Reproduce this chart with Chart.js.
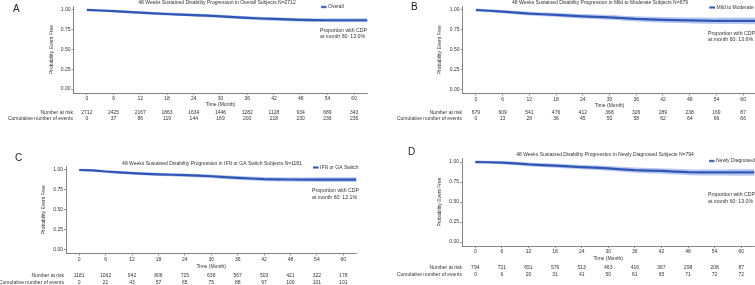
<!DOCTYPE html>
<html><head><meta charset="utf-8">
<script src="https://cdn.jsdelivr.net/npm/chart.js@4"></script>
<style>
html,body{margin:0;padding:0;background:#fff;overflow:hidden;width:755px;height:285px;position:relative}
canvas{position:absolute}
</style></head><body>
<canvas id="cA"></canvas><canvas id="cB"></canvas><canvas id="cC"></canvas><canvas id="cD"></canvas>
<script>
// ---- data ----
const months = [0,3,6,9,12,15,18,21,24,27,30,33,36,39,42,45,48,51,54,57,60,63];
const xTicks = [0,6,12,18,24,30,36,42,48,54,60];
const yTicks = [0,0.25,0.5,0.75,1];

const survOverall = [1.000,0.993,0.986,0.975,0.965,0.957,0.949,0.942,0.935,0.928,0.920,0.909,0.899,0.892,0.886,0.880,0.875,0.872,0.870,0.870,0.870,0.870];
const survMild    = [1.000,0.990,0.980,0.967,0.954,0.946,0.939,0.929,0.920,0.914,0.908,0.897,0.887,0.881,0.876,0.872,0.869,0.866,0.864,0.864,0.864,0.864];
const survSwitch  = [1.000,0.996,0.981,0.970,0.960,0.952,0.945,0.940,0.935,0.928,0.921,0.911,0.901,0.893,0.886,0.883,0.880,0.879,0.879,0.879,0.879,0.879];
const survNew     = [1.000,0.997,0.992,0.982,0.970,0.962,0.954,0.946,0.937,0.929,0.920,0.909,0.898,0.892,0.888,0.880,0.873,0.870,0.870,0.870,0.870,0.870];

const riskOverall = [2712,2425,2167,1863,1634,1446,1282,1128,934,689,343];
const evOverall   = [0,37,86,119,144,169,200,218,230,236,236];
const riskMild    = [679,609,541,476,412,368,326,289,238,169,87];
const evMild      = [0,13,28,36,45,50,58,62,64,66,66];
const riskSwitch  = [1181,1062,942,806,715,638,567,503,421,322,178];
const evSwitch    = [0,21,43,57,65,75,88,97,100,101,101];
const riskNew     = [794,721,651,576,513,463,416,367,298,208,87];
const evNew       = [0,6,20,31,41,50,61,65,71,72,72];

const panelLetters = ['A','B','C','D'];
const panelTitles = [
  '48 Weeks Sustained Disability Progression in Overall Subjects N=2712',
  '48 Weeks Sustained Disability Progression in Mild to Moderate Subjects N=679',
  '48 Weeks Sustained Disability Progression in IFN or GA Switch Subjects N=1181',
  '48 Weeks Sustained Disability Progression in Newly Diagnosed Subjects N=794'
];
const legendNames = ['Overall','Mild to Moderate','IFN or GA Switch','Newly Diagnosed'];
const cdpTexts = ['at month 60: 13.0%','at month 60: 13.6%','at month 60: 12.1%','at month 60: 13.0%'];

// ---- layout ----
const FONT = '"Liberation Sans", Arial, sans-serif';
const TXT = '#333';
const LINE = '#2f55b5';
const BAND = 'rgba(160,182,235,0.75)';

const panels = [
  {id:'cA', surv:survOverall, risk:riskOverall, ev:evOverall, band:[2.5,4],
   box:{x:0,y:0,w:377,h:142}, area:{l:73.5,r:367.5,t:6,b:93},
   letter:{x:13,y:12}, title:{x:217,y:2.5}, legend:{x:321,y:7}, note:{x:320,y:30.5},
   timeY:105, yTitleX:52, rows:[113,119], labelRight:73},
  {id:'cB', surv:survMild, risk:riskMild, ev:evMild, band:[3,7],
   box:{x:377,y:0,w:381,h:142}, area:{l:462.5,r:756.5,t:6,b:93.5},
   letter:{x:411,y:10}, title:{x:600,y:2.5}, legend:{x:709.5,y:7.5}, note:{x:708,y:33.5},
   timeY:105.5, yTitleX:440, rows:[113,119], labelRight:462},
  {id:'cC', surv:survSwitch, risk:riskSwitch, ev:evSwitch, band:[2.5,5],
   box:{x:0,y:142,w:377,h:143}, area:{l:66,r:356.5,t:166,b:253.5},
   letter:{x:15,y:161}, title:{x:212,y:163.5}, legend:{x:313,y:167.5}, note:{x:312,y:191},
   timeY:267, yTitleX:44, rows:[276,283], labelRight:64},
  {id:'cD', surv:survNew, risk:riskNew, ev:evNew, band:[3,7],
   box:{x:377,y:142,w:381,h:143}, area:{l:462,r:754.5,t:158,b:246},
   letter:{x:408,y:155}, title:{x:605,y:155}, legend:{x:709,y:161}, note:{x:708,y:195},
   timeY:259, yTitleX:440, rows:[268,275], labelRight:462}
];

const textPlugin = {
  id:'panelText',
  afterDraw(chart){
    const p = chart.options.plugins.panelText.p;
    const i = chart.options.plugins.panelText.i;
    const ctx = chart.ctx, ox = p.box.x, oy = p.box.y;
    ctx.save();
    ctx.fillStyle = '#222';
    ctx.font = '10px ' + FONT; ctx.textAlign='left'; ctx.textBaseline='alphabetic';
    ctx.fillText(panelLetters[i], p.letter.x-ox, p.letter.y-oy);
    ctx.fillStyle = TXT;
    ctx.font = '5px ' + FONT; ctx.textBaseline='middle';
    ctx.textAlign='center';
    ctx.fillText(panelTitles[i], p.title.x-ox, p.title.y-oy);
    // legend key
    ctx.strokeStyle = BAND; ctx.lineWidth = 3;
    ctx.beginPath(); ctx.moveTo(p.legend.x-ox, p.legend.y-oy); ctx.lineTo(p.legend.x-ox+5.5, p.legend.y-oy); ctx.stroke();
    ctx.strokeStyle = LINE; ctx.lineWidth = 1.6;
    ctx.beginPath(); ctx.moveTo(p.legend.x-ox, p.legend.y-oy); ctx.lineTo(p.legend.x-ox+5.5, p.legend.y-oy); ctx.stroke();
    ctx.textAlign='left';
    ctx.fillText(legendNames[i], p.legend.x-ox+7, p.legend.y-oy);
    ctx.font = '5.2px ' + FONT;
    ctx.fillText('Proportion with CDP', p.note.x-ox, p.note.y-oy);
    ctx.fillText(cdpTexts[i], p.note.x-ox, p.note.y-oy+6.5);
    ctx.font = '5px ' + FONT;
    const ca = chart.chartArea;
    ctx.textAlign='center';
    ctx.fillText('Time (Month)', (ca.left+ca.right)/2, p.timeY-oy);
    ctx.save();
    ctx.translate(p.yTitleX-ox, (ca.top+ca.bottom)/2);
    ctx.rotate(-Math.PI/2);
    ctx.fillText('Probability Event Free', 0, 0);
    ctx.restore();
    const xs = chart.scales.x;
    ctx.textAlign='right';
    ctx.fillText('Number at risk', p.labelRight-ox, p.rows[0]-oy);
    ctx.fillText('Cumulative number of events', p.labelRight-ox, p.rows[1]-oy);
    ctx.textAlign='center';
    xTicks.forEach((t,k)=>{
      const px = xs.getPixelForValue(t);
      ctx.fillText(String(p.risk[k]), px, p.rows[0]-oy);
      ctx.fillText(String(p.ev[k]), px, p.rows[1]-oy);
    });
    ctx.restore();
  }
};

panels.forEach((p,i)=>{
  const cv = document.getElementById(p.id);
  cv.width = p.box.w; cv.height = p.box.h;
  cv.style.left = p.box.x+'px'; cv.style.top = p.box.y+'px';
  cv.style.width = p.box.w+'px'; cv.style.height = p.box.h+'px';
  const xH = 8;
  const pts = months.map((m,k)=>({x:m, y:p.surv[k]}));
  new Chart(cv, {
    type:'line',
    data:{datasets:[
      {data:pts, borderColor:LINE, borderWidth:2.2, pointRadius:0, tension:0, order:1},
      {data:pts, borderColor:BAND, borderWidth:p.band[1], pointRadius:0, tension:0, order:2,
       segment:{borderWidth:c=>p.band[0]+(p.band[1]-p.band[0])*c.p0.parsed.x/63}}
    ]},
    options:{
      responsive:false, animation:false, devicePixelRatio:1,
      layout:{padding:{left:0, top:p.area.t-p.box.y, right:p.box.x+p.box.w-p.area.r,
                       bottom:p.box.y+p.box.h-p.area.b-xH}},
      plugins:{legend:{display:false}, title:{display:false}, tooltip:{enabled:false},
               panelText:{p:p, i:i}},
      scales:{
        x:{type:'linear', min:-3, max:63,
           afterBuildTicks:s=>{s.ticks = xTicks.map(v=>({value:v}));},
           afterFit:s=>{s.height = xH;},
           grid:{drawOnChartArea:false, tickLength:2, color:'#555', lineWidth:0.6},
           border:{display:true, color:'#666', width:0.8},
           ticks:{font:{size:5, family:FONT}, color:TXT, padding:1, maxRotation:0, autoSkip:false,
                  callback:v=>String(v)}},
        y:{type:'linear', min:-0.05, max:1.05,
           afterBuildTicks:s=>{s.ticks = yTicks.map(v=>({value:v}));},
           afterFit:s=>{s.width = p.area.l-p.box.x;},
           grid:{drawOnChartArea:false, tickLength:2, color:'#555', lineWidth:0.6},
           border:{display:true, color:'#666', width:0.8},
           ticks:{font:{size:5, family:FONT}, color:TXT, padding:1, autoSkip:false,
                  callback:v=>Number(v).toFixed(2)}}
      }
    },
    plugins:[textPlugin]
  });
});
</script>
</body></html>
